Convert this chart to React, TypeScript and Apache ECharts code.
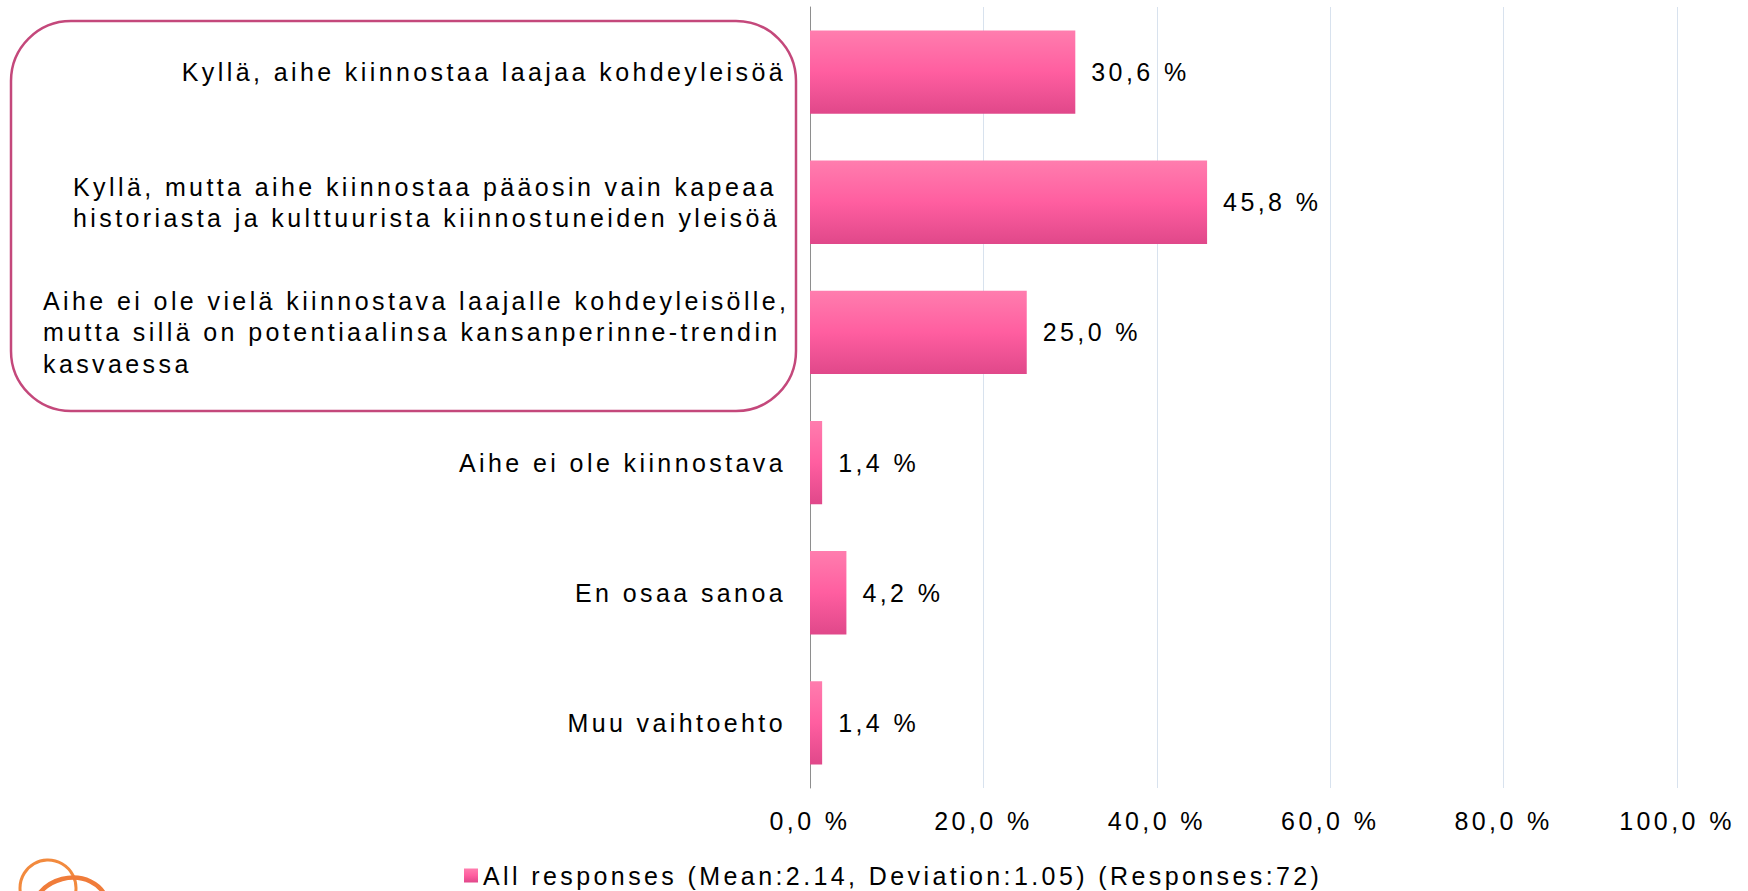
import React, { useEffect, useRef } from 'react';
import * as echarts from 'echarts';

const categories = [
  'Kyllä, aihe kiinnostaa laajaa kohdeyleisöä',
  'Kyllä, mutta aihe kiinnostaa pääosin vain kapeaa\nhistoriasta ja kulttuurista kiinnostuneiden yleisöä',
  'Aihe ei ole vielä kiinnostava laajalle kohdeyleisölle,\nmutta sillä on potentiaalinsa kansanperinne-trendin\nkasvaessa',
  'Aihe ei ole kiinnostava',
  'En osaa sanoa',
  'Muu vaihtoehto',
];
const values = [30.6, 45.8, 25.0, 1.4, 4.2, 1.4];
const xTicks = [0, 20, 40, 60, 80, 100];
const seriesName = 'All responses (Mean:2.14, Deviation:1.05) (Responses:72)';
// multi-line category labels whose lines are left-aligned inside the block
const leftAlignedBlocks: Record<number, string> = { 1: 'b2', 2: 'b3' };

const FONT = "'Liberation Sans', Arial, sans-serif";
const fmtPct = (v: number) => v.toFixed(1).replace('.', ',') + ' %';

export default function App() {
  const ref = useRef<HTMLDivElement>(null);

  useEffect(() => {
    if (!ref.current) return;
    const chart = echarts.init(ref.current, undefined, { renderer: 'svg' });
    const barColor = new echarts.graphic.LinearGradient(0, 0, 0, 1, [
      { offset: 0, color: '#FF7DAE' },
      { offset: 0.5, color: '#FF5EA0' },
      { offset: 1, color: '#E0488A' },
    ]);
    const tokenBase = { fontSize: 25, lineHeight: 31.5, color: '#000', fontFamily: FONT, align: 'left' };
    chart.setOption({
      animation: false,
      textStyle: { fontFamily: FONT },
      grid: { left: 810, right: 71, top: 7, bottom: 103, containLabel: false, outerBoundsMode: 'none' },
      legend: {
        data: [seriesName],
        left: 464,
        top: 863,
        padding: 0,
        icon: 'rect',
        itemWidth: 14,
        itemHeight: 14,
        textStyle: { fontSize: 25, color: '#000', fontFamily: FONT },
      },
      xAxis: {
        type: 'value',
        min: xTicks[0],
        max: xTicks[xTicks.length - 1],
        interval: xTicks[1] - xTicks[0],
        axisLine: { show: false },
        axisTick: { show: false },
        splitLine: { show: true, lineStyle: { color: '#D8E2EE', width: 1 } },
        axisLabel: {
          margin: 20,
          fontSize: 25,
          color: '#000',
          fontFamily: FONT,
          formatter: (v: number) => fmtPct(v),
        },
      },
      yAxis: {
        type: 'category',
        inverse: true,
        data: categories,
        axisLine: { show: true, lineStyle: { color: '#8E8E8E', width: 1 } },
        axisTick: { show: false },
        splitLine: { show: false },
        axisLabel: {
          interval: 0,
          margin: 24,
          fontSize: 25,
          lineHeight: 31.5,
          color: '#000',
          fontFamily: FONT,
          formatter: (v: string, i: number) => {
            const key = leftAlignedBlocks[i];
            return key ? `{${key}|${v}}` : v;
          },
          rich: {
            b2: { ...tokenBase, width: 713 },
            b3: { ...tokenBase, width: 743 },
          },
        },
      },
      series: [
        {
          name: seriesName,
          type: 'bar',
          data: values,
          barCategoryGap: '36%',
          itemStyle: { color: barColor },
          label: {
            show: true,
            position: 'right',
            distance: 16,
            fontSize: 25,
            color: '#000',
            fontFamily: FONT,
            formatter: (p: any) => fmtPct(p.value),
          },
        },
      ],
      graphic: [
        {
          type: 'rect',
          shape: { x: 11, y: 21, width: 785, height: 390, r: 60 },
          style: { fill: 'none', stroke: '#C4487B', lineWidth: 2.5 },
          silent: true,
        },
        {
          type: 'circle',
          shape: { cx: 48, cy: 888, r: 28 },
          style: { fill: 'none', stroke: '#F28A3E', lineWidth: 3 },
          silent: true,
        },
        {
          type: 'ellipse',
          x: 70,
          y: 910,
          rotation: 0.25,
          shape: { cx: 0, cy: 0, rx: 38, ry: 32 },
          style: { fill: 'none', stroke: '#F07C3A', lineWidth: 4.5 },
          silent: true,
        },
      ],
    });
    return () => chart.dispose();
  }, []);

  return (
    <div
      ref={ref}
      style={{
        position: 'absolute',
        left: 0,
        top: 0,
        width: 1748,
        height: 891,
        letterSpacing: '3.4px',
        background: '#fff',
      }}
    />
  );
}
